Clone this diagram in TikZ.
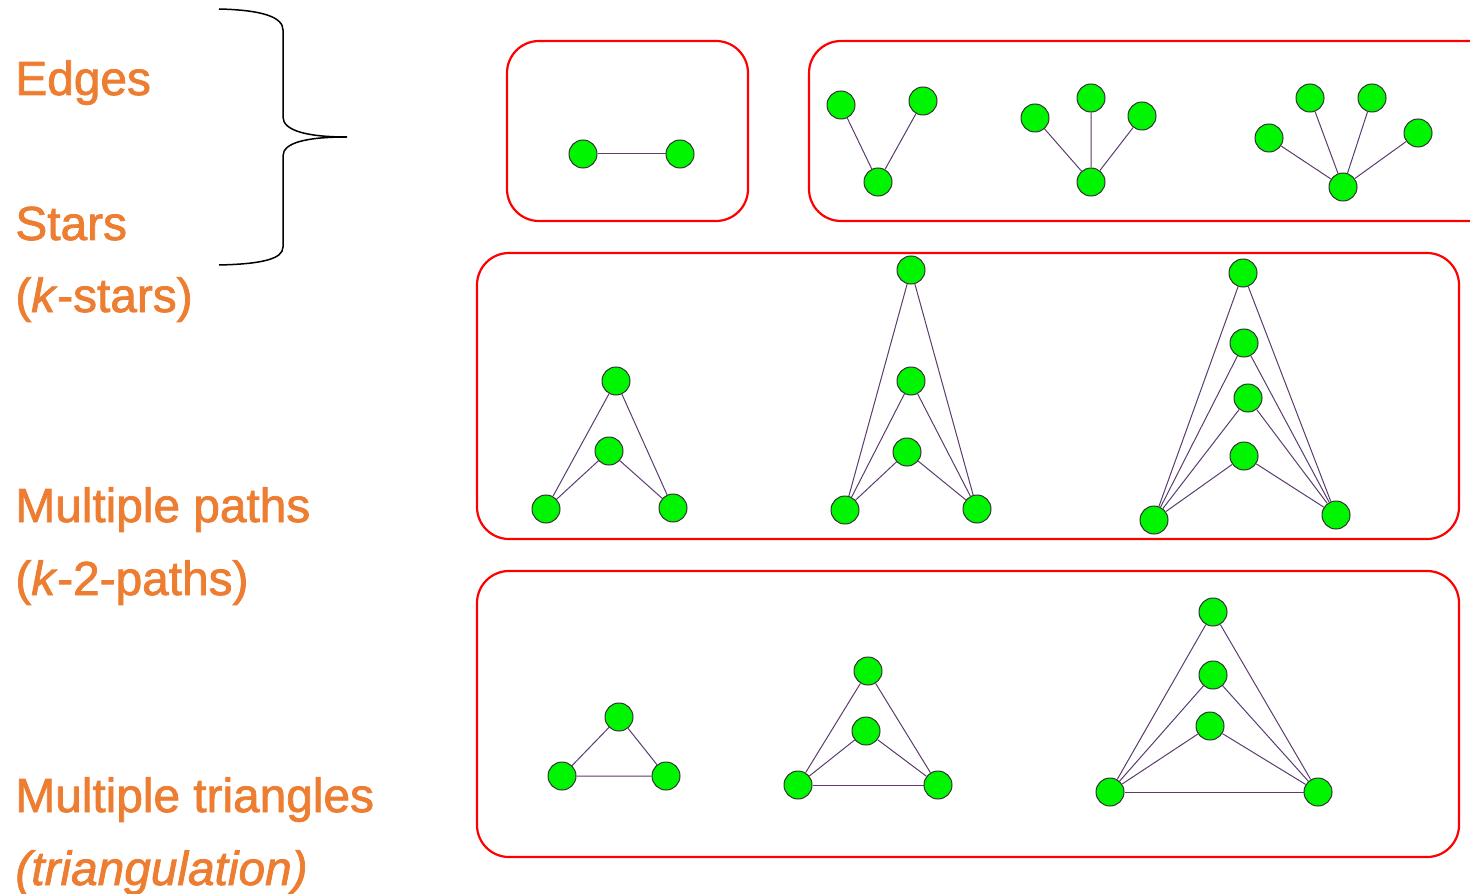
\documentclass[tikz,border=0pt]{standalone}
\usepackage{fontspec}
\setmainfont[FakeBold=1.6]{Liberation Sans}
\begin{document}
\definecolor{labelorange}{HTML}{ED7D31}
\definecolor{edgepurple}{HTML}{5A3C6E}
\begin{tikzpicture}[x=0.5pt,y=-0.5pt,
  vert/.style={circle,draw=black!80,line width=0.5pt,fill={rgb,255:red,0;green,245;blue,0},minimum size=14pt,inner sep=0pt},
  lnk/.style={draw=edgepurple,line width=0.5pt},
  panel/.style={draw=red,line width=1.1pt,rounded corners=16pt},
  lbl/.style={text=labelorange,font=\fontsize{23.9}{28}\selectfont,anchor=base west,inner sep=0pt}]
\clip (0,0) rectangle (1470,893);

% labels
\node[lbl] (tedges) at (15,95) {Edges};
\node[lbl] (tstars) at (15,240) {Stars};
\node[lbl] (tkstars) at (15,312) {(\textit{k}-stars)};
\node[lbl] (tpaths) at (15,522) {Multiple paths};
\node[lbl] (tkpaths) at (15,595) {(\textit{k}-2-paths)};
\node[lbl] (ttri) at (15,812) {Multiple triangles};
\node[lbl] (ttrig) at (15,885) {\textit{(triangulation)}};

% curly brace grouping edges and stars
\draw[line width=0.75pt] (219,9) .. controls (262,10) and (283,17) .. (283,30) -- (283,117)
  .. controls (283,130) and (305,137) .. (347,137)
  .. controls (305,137) and (283,143) .. (283,156) -- (283,247)
  .. controls (283,259) and (262,264) .. (219,265);

% panels
\draw[panel] (507,41) rectangle (748,221);
\draw[panel] (809,41) rectangle (1500,221);
\draw[panel] (477,253) rectangle (1459,539);
\draw[panel] (477,571) rectangle (1459,857);

% single edge
\node[vert] (e1) at (583,154) {};
\node[vert] (e2) at (680,154) {};
\draw[lnk] (e1) -- (e2);

% 2-star
\node[vert] (sa1) at (841,105) {};
\node[vert] (sa2) at (923,101) {};
\node[vert] (sac) at (878,182) {};
\draw[lnk] (sac) -- (sa1) (sac) -- (sa2);

% 3-star
\node[vert] (sb1) at (1035,118) {};
\node[vert] (sb2) at (1091,98) {};
\node[vert] (sb3) at (1142,116) {};
\node[vert] (sbc) at (1091,182) {};
\draw[lnk] (sbc) -- (sb1) (sbc) -- (sb2) (sbc) -- (sb3);

% 4-star
\node[vert] (sc1) at (1269,138) {};
\node[vert] (sc2) at (1310,98) {};
\node[vert] (sc3) at (1372,98) {};
\node[vert] (sc4) at (1418,133) {};
\node[vert] (scc) at (1343,187) {};
\draw[lnk] (scc) -- (sc1) (scc) -- (sc2) (scc) -- (sc3) (scc) -- (sc4);

% 2-path
\node[vert] (pa1) at (616,381) {};
\node[vert] (pa2) at (609,451) {};
\node[vert] (paL) at (546,509) {};
\node[vert] (paR) at (673,508) {};
\foreach \m in {pa1,pa2} \draw[lnk] (\m) -- (paL) (\m) -- (paR);

% 3-path
\node[vert] (pb1) at (911,270) {};
\node[vert] (pb2) at (911,381) {};
\node[vert] (pb3) at (907,452) {};
\node[vert] (pbL) at (845,510) {};
\node[vert] (pbR) at (977,509) {};
\foreach \m in {pb1,pb2,pb3} \draw[lnk] (\m) -- (pbL) (\m) -- (pbR);

% 4-path
\node[vert] (pc1) at (1243,273) {};
\node[vert] (pc2) at (1244,343) {};
\node[vert] (pc3) at (1248,398) {};
\node[vert] (pc4) at (1244,456) {};
\node[vert] (pcL) at (1154,520) {};
\node[vert] (pcR) at (1336,515) {};
\foreach \m in {pc1,pc2,pc3,pc4} \draw[lnk] (\m) -- (pcL) (\m) -- (pcR);

% single triangle
\node[vert] (ta1) at (619,717) {};
\node[vert] (taL) at (562,776) {};
\node[vert] (taR) at (666,776) {};
\draw[lnk] (ta1) -- (taL) -- (taR) -- (ta1);

% two triangles
\node[vert] (tb1) at (868,671) {};
\node[vert] (tb2) at (866,731) {};
\node[vert] (tbL) at (798,785) {};
\node[vert] (tbR) at (938,785) {};
\foreach \m in {tb1,tb2} \draw[lnk] (\m) -- (tbL) (\m) -- (tbR);
\draw[lnk] (tbL) -- (tbR);

% three triangles
\node[vert] (tc1) at (1213,612) {};
\node[vert] (tc2) at (1213,675) {};
\node[vert] (tc3) at (1210,726) {};
\node[vert] (tcL) at (1110,792) {};
\node[vert] (tcR) at (1318,792) {};
\foreach \m in {tc1,tc2,tc3} \draw[lnk] (\m) -- (tcL) (\m) -- (tcR);
\draw[lnk] (tcL) -- (tcR);
\end{tikzpicture}
\end{document}
